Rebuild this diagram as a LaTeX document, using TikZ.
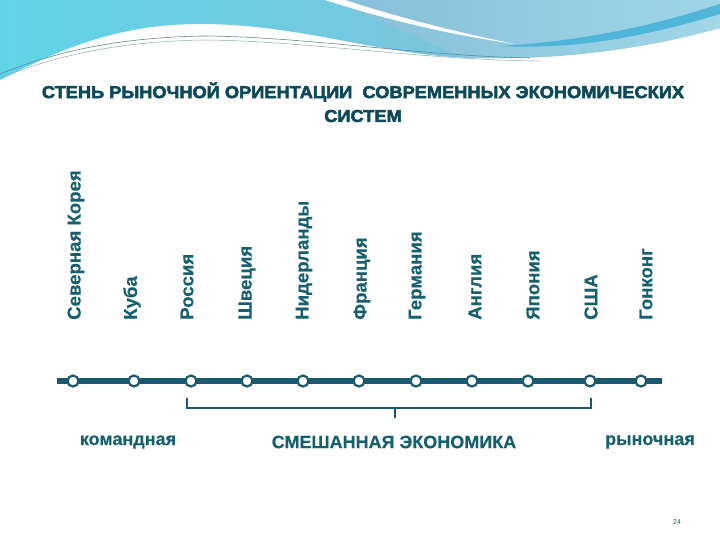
\documentclass[tikz,border=0pt]{standalone}
\usepackage{fontspec}
\setmainfont{Liberation Sans}
\newfontfamily\titlefont[FakeBold=3, FakeStretch=1.06]{Liberation Sans}
\newfontfamily\lblfont[FakeBold=0.3]{Liberation Sans}
\usetikzlibrary{calc}
\definecolor{linec}{RGB}{26,90,112}
\definecolor{textc}{RGB}{20,96,110}
\definecolor{titlec}{RGB}{12,74,90}
\definecolor{bgcyan}{RGB}{95,212,232}
\definecolor{bgblue}{RGB}{138,188,214}
\definecolor{bglight}{RGB}{165,222,236}
\definecolor{streak}{RGB}{60,175,215}
\tikzset{
  country/.style={rotate=90, anchor=west, inner sep=0pt, font=\lblfont\bfseries\fontsize{18.6}{22}\selectfont, text=textc},
  dot/.style={circle, draw=linec, fill=white, line width=2.2pt, minimum size=11pt, inner sep=0pt},
  axis/.style={line width=6.5pt, draw=linec},
  bracket/.style={line width=1.5pt, draw=linec},
  bottomlbl/.style={font=\lblfont\bfseries\fontsize{18}{22}\selectfont, text=textc, inner sep=0pt},
  titlelbl/.style={font=\titlefont\bfseries\fontsize{17.2}{20}\selectfont, text=titlec, inner sep=0pt}
}
\begin{document}
\begin{tikzpicture}[x=1pt,y=-1pt]
\useasboundingbox (0,0) rectangle (720,540);
\fill[white] (0,0) rectangle (720,540);
% background wave
\shade[left color=bgcyan, right color=bgblue] (0,0) -- (720,0) -- (720,28)
  .. controls (640,50) and (560,60) .. (470,58)
  .. controls (380,55) and (300,24) .. (200,24)
  .. controls (110,24) and (50,55) .. (0,80) -- cycle;
\shade[left color=bgblue, right color=bglight, opacity=0.8] (330,0) -- (720,0) -- (720,28)
  .. controls (640,50) and (560,60) .. (470,58) .. controls (440,50) and (380,20) .. (330,0) -- cycle;
\fill[white] (325,0) -- (345,0) .. controls (400,18) and (460,33) .. (515,44) .. controls (450,35) and (380,18) .. (325,0) -- cycle;
\fill[streak, opacity=0.8] (500,46) .. controls (600,40) and (670,20) .. (720,4) -- (720,14) .. controls (650,35) and (580,50) .. (500,46) -- cycle;
\draw[linec!70, line width=0.6pt] (0,74) .. controls (60,50) and (120,38) .. (200,36) .. controls (300,36) and (420,56) .. (530,58);
\draw[linec!50, line width=0.5pt] (0,78) .. controls (60,54) and (120,42) .. (200,40) .. controls (300,40) and (420,60) .. (540,61);
% title
\node[titlelbl] (t1) at (363,92) {СТЕНЬ РЫНОЧНОЙ ОРИЕНТАЦИИ \ СОВРЕМЕННЫХ ЭКОНОМИЧЕСКИХ};
\node[titlelbl] (t2) at (363,116) {СИСТЕМ};
% country labels
\node[country] (c1) at (76,320) {Северная Корея};
\node[country] (c2) at (132,320) {Куба};
\node[country] (c3) at (187,320) {Россия};
\node[country] (c4) at (247,320) {Швеция};
\node[country] (c5) at (304,320) {Нидерланды};
\node[country] (c6) at (362,320) {Франция};
\node[country] (c7) at (417,320) {Германия};
\node[country] (c8) at (475,320) {Англия};
\node[country] (c9) at (533,320) {Япония};
\node[country] (c10) at (591,320) {США};
\node[country] (c11) at (646,320) {Гонконг};
% axis
\coordinate (la) at (57,381);
\coordinate (ra) at (662,381);
\draw[axis] (la) -- (ra);
\foreach \i/\x in {1/73,2/134,3/191,4/247,5/303,6/359,7/416,8/472,9/528,10/590,11/641}
  \node[dot] (d\i) at (\x,381) {};
% bracket
\coordinate (bl) at (187,398);
\coordinate (br) at (591,398);
\coordinate (bm) at (395,408);
\coordinate (bt) at (395,418);
\draw[bracket] (bl) |- (bm) -| (br);
\draw[bracket] (bm) -- (bt);
% bottom labels
\node[bottomlbl] (l1) at (128,442) {командная};
\node[bottomlbl] (l2) at (394,442) {СМЕШАННАЯ ЭКОНОМИКА};
\node[bottomlbl] (l3) at (650,442) {рыночная};
\node[font=\fontsize{7}{8}\selectfont, text=textc] (pn) at (677,522) {24};
\end{tikzpicture}
\end{document}
